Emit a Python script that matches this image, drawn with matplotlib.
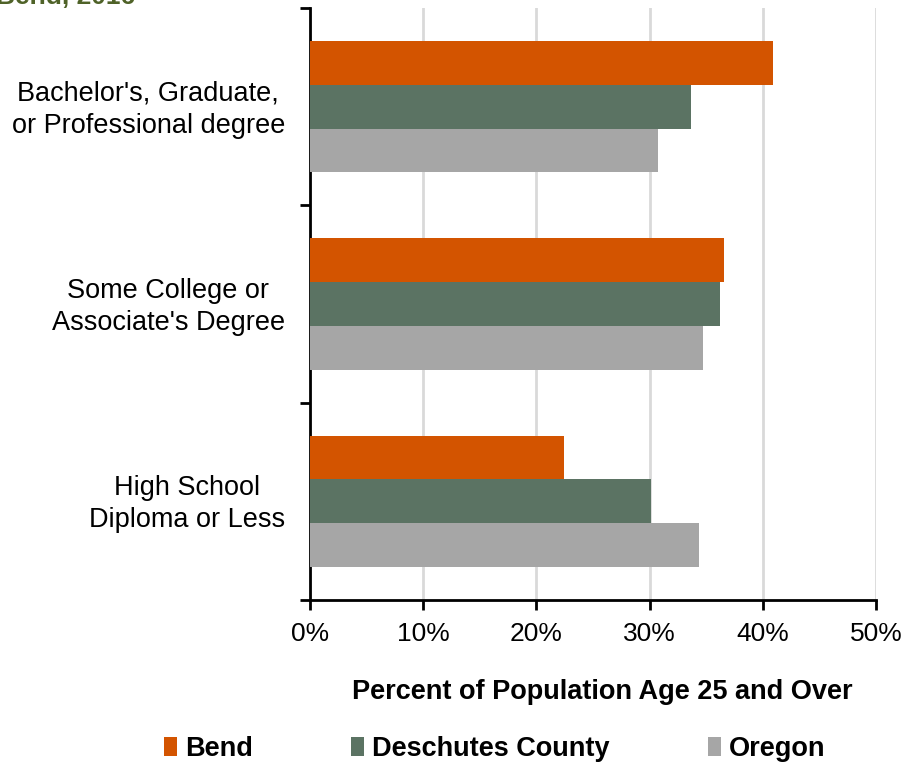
import numpy as np
import matplotlib.pyplot as plt

plt.rcParams['font.family'] = ['Liberation Sans', 'DejaVu Sans']

categories = ["High School\nDiploma or Less",
              "Some College or\nAssociate's Degree",
              "Bachelor's, Graduate,\nor Professional degree"]
bend = [22.4, 36.6, 40.9]
deschutes = [30.1, 36.2, 33.7]
oregon = [34.4, 34.7, 30.7]
series_names = ['Bend', 'Deschutes County', 'Oregon']
colors = ['#D35400', '#5B7363', '#A6A6A6']
xticks = [0, 10, 20, 30, 40, 50]

fig = plt.figure(figsize=(9.06, 7.65), dpi=100)
ax = fig.add_axes([310 / 906, 165 / 765, 566 / 906, 592 / 765])

y = np.arange(len(categories)) + 0.5
h = 0.222
ax.barh(y - h, oregon, height=h, color=colors[2], label=series_names[2], zorder=3)
ax.barh(y, deschutes, height=h, color=colors[1], label=series_names[1], zorder=3)
ax.barh(y + h, bend, height=h, color=colors[0], label=series_names[0], zorder=3)

ax.set_xlim(0, 50)
ax.set_ylim(0, 3)
ax.set_xticks(xticks)
ax.set_xticklabels([f'{t}%' for t in xticks], fontsize=19)
ax.set_yticks([0, 1, 2, 3])
ax.set_yticks(y + 0.015, minor=True)
ax.set_yticklabels([])
ax.set_yticklabels(categories, minor=True, fontsize=19.5,
                   multialignment='center', linespacing=1.3)
ax.tick_params(axis='y', which='minor', length=0, pad=18)
ax.tick_params(axis='y', which='major', length=7, width=2, direction='out')
ax.tick_params(axis='x', length=7, width=2, direction='out', pad=9)

ax.grid(axis='x', color='#D9D9D9', linewidth=2, zorder=0)
for s in ['top', 'right']:
    ax.spines[s].set_visible(False)
for s in ['left', 'bottom']:
    ax.spines[s].set_linewidth(2)
    ax.spines[s].set_color('black')

ax.set_xlabel('Percent of Population Age 25 and Over', fontsize=19.5,
              fontweight='bold')
ax.xaxis.set_label_coords(0.516, -0.134)

handles, labels = ax.get_legend_handles_labels()
order = [2, 1, 0]
fig.legend([handles[i] for i in order], [labels[i] for i in order],
           loc='center', bbox_to_anchor=(0.546, 0.021), ncol=3, frameon=False,
           prop={'size': 19.5, 'weight': 'bold'}, handlelength=0.5, handleheight=0.7,
           handletextpad=0.3, columnspacing=3.6)

fig.text(135 / 906, 1 - 4 / 765, 'Bend, 2016', ha='right', va='baseline',
         fontsize=19, fontweight='bold', color='#4F6228')

fig.savefig('out.png', dpi=100)
